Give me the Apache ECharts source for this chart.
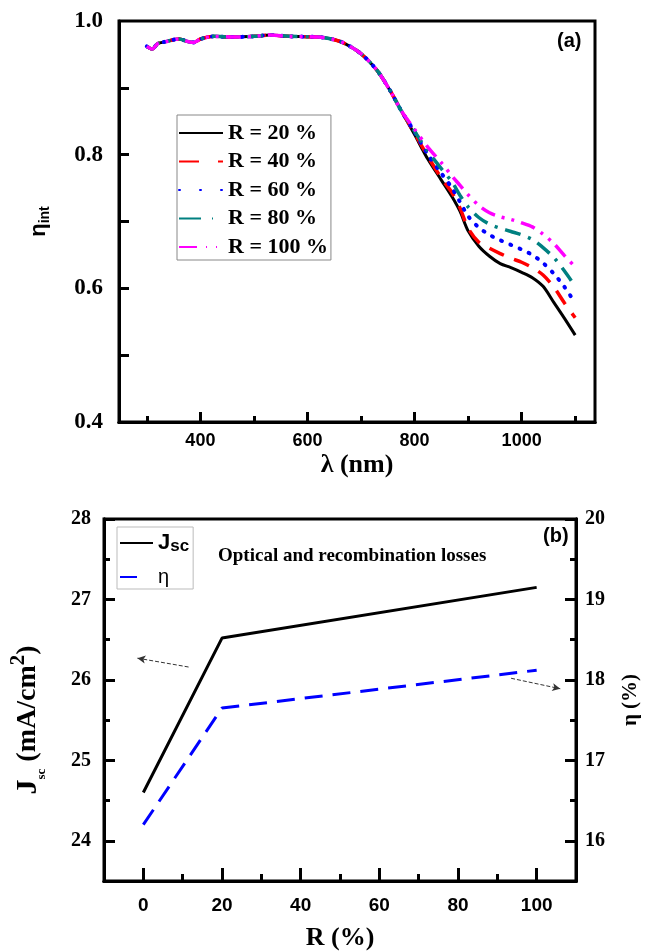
<!DOCTYPE html>
<html><head><meta charset="utf-8">
<script src="https://cdn.jsdelivr.net/npm/echarts@6/dist/echarts.min.js"></script>
<style>html,body{margin:0;padding:0;background:#fff}#c{width:649px;height:952px}</style>
</head><body><div id="c"></div>
<script>
// ---------- Panel (a) data ----------
const wavelength = [300,310,320,335,360,378,388,400,425,460,500,530,565,620,645,668,700,730,755,775,800,825,850,870,885,900,920,940,960,980,1000,1020,1040,1060,1080,1100];
const r20  = [0.962,0.958,0.966,0.969,0.973,0.969,0.968,0.973,0.977,0.976,0.977,0.979,0.977,0.976,0.973,0.967,0.951,0.926,0.895,0.866,0.830,0.793,0.762,0.737,0.715,0.686,0.663,0.648,0.637,0.631,0.624,0.616,0.603,0.579,0.555,0.530];
const r40  = [0.962,0.958,0.966,0.969,0.973,0.969,0.968,0.973,0.977,0.976,0.977,0.979,0.977,0.976,0.973,0.967,0.951,0.926,0.895,0.866,0.832,0.797,0.765,0.743,0.720,0.690,0.669,0.660,0.652,0.645,0.639,0.631,0.620,0.602,0.578,0.556];
const r60  = [0.962,0.958,0.966,0.969,0.973,0.969,0.968,0.973,0.977,0.976,0.977,0.979,0.977,0.976,0.973,0.967,0.951,0.926,0.895,0.866,0.834,0.800,0.772,0.750,0.729,0.708,0.691,0.680,0.672,0.665,0.658,0.650,0.638,0.622,0.602,0.578];
const r80  = [0.962,0.958,0.966,0.969,0.973,0.969,0.968,0.973,0.977,0.976,0.977,0.979,0.977,0.976,0.973,0.967,0.951,0.926,0.895,0.866,0.835,0.805,0.779,0.759,0.739,0.722,0.706,0.696,0.690,0.685,0.680,0.673,0.661,0.646,0.626,0.603];
const r100 = [0.962,0.958,0.966,0.969,0.973,0.969,0.968,0.973,0.977,0.976,0.977,0.979,0.977,0.976,0.973,0.967,0.951,0.926,0.895,0.866,0.838,0.811,0.788,0.768,0.754,0.740,0.724,0.713,0.707,0.703,0.698,0.692,0.681,0.667,0.649,0.632];
const seriesNamesA = ['R = 20 %','R = 40 %','R = 60 %','R = 80 %','R = 100 %'];
const xMajorA = [400,600,800,1000];
const xMinorA = [300,500,700,900,1100];
const yTicksA = [0.5,0.6,0.7,0.8,0.9];
const yLabelsA = [0.4,0.6,0.8,1.0];

// ---------- Panel (b) data ----------
const reflect = [0,20,100];
const jsc = [24.6,26.52,27.15];
const eff = [16.2,17.65,18.12];
const xMajorB = [0,20,40,60,80,100];
const xMinorB = [10,30,50,70,90];
const jMajor = [24,25,26,27,28];
const jMinor = [24.5,25.5,26.5,27.5];
const eMajor = [16,17,18,19,20];
const eMinor = [16.5,17.5,18.5,19.5];

const pairs = (xs, ys) => xs.map((x,i)=>[x, ys[i]]);
const serif = 'Liberation Serif';
const sans = 'Liberation Sans';
const axLine = () => ({show:true, onZero:false, lineStyle:{color:'#000', width:3}});
const tick = (len, vals) => ({show:true, inside:true, length:len, lineStyle:{width:3, color:'#000'}, customValues:vals});

const styleA = [
  {color:'#000000', type:'solid', width:3, cap:'butt'},
  {color:'#FF0000', type:[16,11], width:3.5, cap:'butt'},
  {color:'#0000FF', type:[1,9], width:4, cap:'round'},
  {color:'#008080', type:[16,8,3,8], width:3.5, cap:'butt'},
  {color:'#FF00FF', type:[15,7,3,7,3,7], width:3.5, cap:'butt'}
];
const dataA = [r20,r40,r60,r80,r100];

const seriesA = dataA.map((d,i)=>({
  name: seriesNamesA[i], type:'line', xAxisIndex:0, yAxisIndex:0,
  data: pairs(wavelength,d), smooth:0.3, symbol:'none',
  lineStyle: styleA[i], itemStyle:{color:styleA[i].color}, z: 3+i
}));

const arrowStyle = {type:'dashed', width:1, color:'#333'};

const option = {
  animation:false,
  backgroundColor:'#fff',
  grid:[
    {left:119, top:21, width:476, height:401, show:true, borderColor:'#000', borderWidth:3, backgroundColor:'transparent'},
    {left:98, top:519, width:485, height:363, show:true, borderColor:'#000', borderWidth:3, backgroundColor:'transparent'}
  ],
  xAxis:[
    {gridIndex:0, type:'value', position:'bottom', min:248, max:1137, axisLine:axLine(), splitLine:{show:false},
     axisTick:tick(10, xMajorA),
     axisLabel:{customValues:xMajorA, margin:10, color:'#000', fontFamily:sans, fontWeight:'bold', fontSize:18,
       formatter:v=>String(v)},
     name:'λ (nm)', nameLocation:'middle', nameGap:30,
     nameTextStyle:{fontFamily:serif, fontWeight:'bold', fontSize:26, color:'#000'}},
    {gridIndex:0, type:'value', position:'bottom', offset:0, min:248, max:1137, axisLine:axLine(), splitLine:{show:false},
     axisTick:tick(6, xMinorA), axisLabel:{show:false}},
    {gridIndex:1, type:'value', position:'bottom', min:-10, max:110, axisLine:axLine(), splitLine:{show:false},
     axisTick:tick(13, xMajorB),
     axisLabel:{customValues:xMajorB, margin:15, color:'#000', fontFamily:sans, fontWeight:'bold', fontSize:19,
       formatter:v=>String(v)},
     name:'R (%)', nameLocation:'middle', nameGap:44,
     nameTextStyle:{fontFamily:serif, fontWeight:'bold', fontSize:26, color:'#000'}},
    {gridIndex:1, type:'value', position:'bottom', offset:0, min:-10, max:110, axisLine:axLine(), splitLine:{show:false},
     axisTick:tick(7, xMinorB), axisLabel:{show:false}}
  ],
  yAxis:[
    {gridIndex:0, type:'value', position:'left', min:0.4, max:1.0, axisLine:axLine(), splitLine:{show:false},
     axisTick:tick(10, yTicksA),
     axisLabel:{customValues:yLabelsA, margin:16, color:'#000', fontFamily:serif, fontWeight:'bold', fontSize:23,
       formatter:v=>Number(v).toFixed(1)},
     name:'{e|η}{s|int}', nameLocation:'middle', nameGap:67, nameRotate:90,
     nameTextStyle:{color:'#000', rich:{
       e:{fontFamily:sans, fontWeight:'bold', fontSize:22, lineHeight:26, color:'#000'},
       s:{fontFamily:sans, fontWeight:'bold', fontSize:14, lineHeight:14, verticalAlign:'bottom', color:'#000'}}}},
    {gridIndex:1, type:'value', position:'left', min:23.5, max:28, axisLine:axLine(), splitLine:{show:false},
     axisTick:tick(11, jMajor),
     axisLabel:{customValues:jMajor, margin:13, color:'#000', fontFamily:serif, fontWeight:'bold', fontSize:20},
     name:'{j|J}{s|sc}{t| (mA/cm}{p|2}{t|)}', nameLocation:'middle', nameGap:56, nameRotate:90,
     nameTextStyle:{color:'#000', padding:[0,40,0,0], rich:{
       j:{fontFamily:serif, fontWeight:'bold', fontSize:30, lineHeight:32, color:'#000'},
       s:{fontFamily:serif, fontWeight:'bold', fontSize:13, lineHeight:14, verticalAlign:'bottom', color:'#000'},
       t:{fontFamily:serif, fontWeight:'bold', fontSize:28, lineHeight:32, color:'#000'},
       p:{fontFamily:serif, fontWeight:'bold', fontSize:21, lineHeight:40, verticalAlign:'top', color:'#000'}}}},
    {gridIndex:1, type:'value', position:'left', offset:0, min:23.5, max:28, axisLine:axLine(), splitLine:{show:false},
     axisTick:tick(6, jMinor), axisLabel:{show:false}},
    {gridIndex:1, type:'value', position:'right', min:15.5, max:20, axisLine:axLine(), splitLine:{show:false},
     axisTick:tick(11, eMajor),
     axisLabel:{customValues:eMajor, margin:9, color:'#000', fontFamily:serif, fontWeight:'bold', fontSize:20},
     name:'η (%)', nameLocation:'middle', nameGap:44, nameRotate:90,
     nameTextStyle:{fontFamily:serif, fontWeight:'bold', fontSize:21, color:'#000'}},
    {gridIndex:1, type:'value', position:'right', offset:0, min:15.5, max:20, axisLine:axLine(), splitLine:{show:false},
     axisTick:tick(6, eMinor), axisLabel:{show:false}}
  ],
  legend:[
    {orient:'vertical', left:177, top:115, padding:[6,3,1,1], itemGap:4.5, itemWidth:44, itemHeight:14,
     borderColor:'#888', borderWidth:1, backgroundColor:'#fff',
     itemStyle:{opacity:0},
     data:[
       {name:'R = 20 %'},
       {name:'R = 40 %', lineStyle:{type:[20,19]}},
       {name:'R = 60 %', lineStyle:{type:[1,20]}},
       {name:'R = 80 %', lineStyle:{type:[22,11,1,30]}},
       {name:'R = 100 %', lineStyle:{type:[18,9,1,9,1,30]}}
     ],
     textStyle:{fontFamily:serif, fontWeight:'bold', fontSize:22, lineHeight:24, color:'#000'},
     selectedMode:false},
    {orient:'vertical', left:117, top:527, padding:[4,4,0,2], itemGap:10, itemWidth:33, itemHeight:14,
     borderColor:'#bbb', borderWidth:1, backgroundColor:'#fff',
     itemStyle:{opacity:0},
     data:[{name:'Jsc'}, {name:'η', lineStyle:{type:[17,100]}}],
     formatter: n => n === 'Jsc' ? '{j|J}{s|sc}' : '{e|η}',
     textStyle:{color:'#000', lineHeight:24, rich:{
       j:{fontFamily:sans, fontWeight:'bold', fontSize:22, lineHeight:24, color:'#000'},
       s:{fontFamily:sans, fontWeight:'bold', fontSize:17, lineHeight:18, verticalAlign:'bottom', color:'#000'},
       e:{fontFamily:sans, fontSize:20, lineHeight:24, color:'#000'}}},
     selectedMode:false}
  ],
  graphic:[
    {type:'text', left:557, top:31, style:{text:'(a)', font:'bold 20px "Liberation Sans"', fill:'#000'}},
    {type:'text', left:543, top:526, style:{text:'(b)', font:'bold 20px "Liberation Sans"', fill:'#000'}},
    {type:'text', left:218, top:547, style:{text:'Optical and recombination losses', font:'bold 19px "Liberation Serif"', fill:'#000'}}
  ],
  series: seriesA.concat([
    {name:'Jsc', type:'line', xAxisIndex:2, yAxisIndex:1, data:pairs(reflect,jsc), symbol:'none',
     lineStyle:{color:'#000', width:3}, itemStyle:{color:'#000'},
     markLine:{silent:true, symbol:['none','arrow'], symbolSize:[6,8], label:{show:false},
       lineStyle:arrowStyle,
       data:[[{coord:[11.5,26.16]},{coord:[-1.5,26.27]}]]}},
    {name:'η', type:'line', xAxisIndex:2, yAxisIndex:3, data:pairs(reflect,eff), symbol:'none',
     lineStyle:{color:'#0000FF', width:3, type:[18,10]}, itemStyle:{color:'#0000FF'},
     markLine:{silent:true, symbol:['none','arrow'], symbolSize:[6,8], label:{show:false},
       lineStyle:arrowStyle,
       data:[[{coord:[93.5,18.02]},{coord:[106,17.89]}]]}}
  ])
};

const chart = echarts.init(document.getElementById('c'), null, {renderer:'canvas'});
chart.setOption(option);
</script></body></html>
